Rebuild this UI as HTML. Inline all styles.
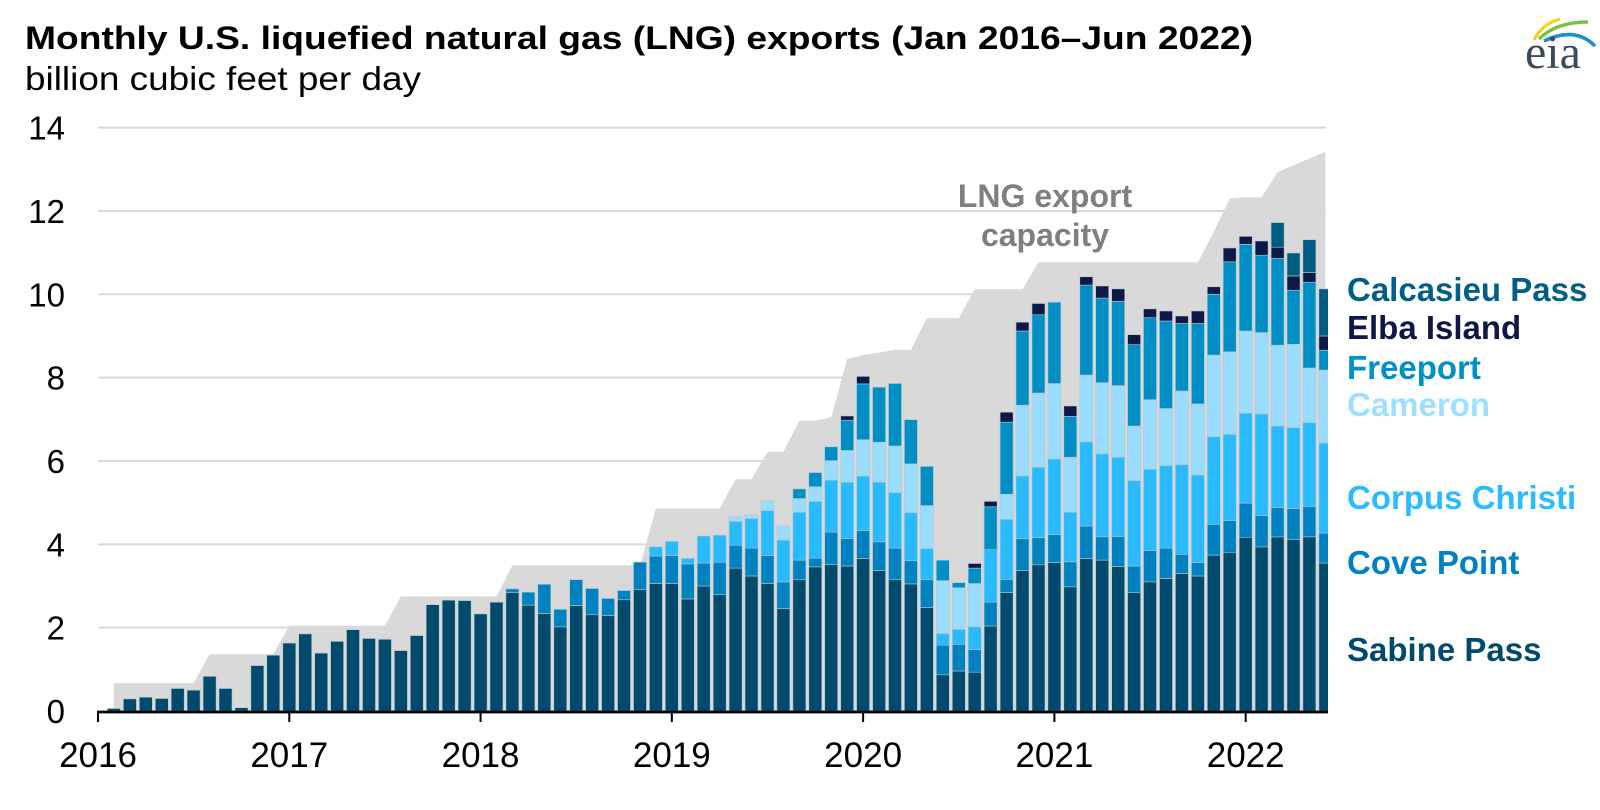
<!DOCTYPE html>
<html><head><meta charset="utf-8"><title>Monthly U.S. LNG exports</title>
<style>html,body{margin:0;padding:0;background:#fff}svg{display:block;font-family:"Liberation Sans",Arial,sans-serif}</style>
</head><body>
<svg id="chart" width="1600" height="810" viewBox="0 0 1600 810" xmlns="http://www.w3.org/2000/svg">
<defs><clipPath id="plotclip"><rect x="90" y="100" width="1238" height="612"/></clipPath></defs>
<text x="25" y="49" font-size="32" font-weight="bold" fill="#000" textLength="1228" lengthAdjust="spacingAndGlyphs">Monthly U.S. liquefied natural gas (LNG) exports (Jan 2016–Jun 2022)</text>
<text x="25" y="90" font-size="33" fill="#000" textLength="396" lengthAdjust="spacingAndGlyphs">billion cubic feet per day</text>
<g>
<path d="M1534 40 Q1542 24 1560 19" fill="none" stroke="#f2d21b" stroke-width="3"/>
<path d="M1539 39 Q1556 22 1588 22" fill="none" stroke="#7cc242" stroke-width="3.5"/>
<path d="M1544 41 Q1575 26 1595 46" fill="none" stroke="#1b8fd2" stroke-width="3.5"/>
<text x="1525" y="68" font-family="Liberation Serif, serif" font-size="48" fill="#3b4a5c">eia</text>
</g>
<g id="grid"></g>
<g id="capacity" clip-path="url(#plotclip)"></g>
<g id="bars" clip-path="url(#plotclip)"></g>
<g id="axes"></g>
<g font-size="32" font-weight="bold" fill="#7f7f7f" text-anchor="middle">
<text x="1045" y="207">LNG export</text>
<text x="1045" y="246">capacity</text>
</g>
<g id="legend" font-size="33" font-weight="bold"></g>
</svg>
<script>
const years = ["2016","2017","2018","2019","2020","2021","2022"];
const yTicks = [0,2,4,6,8,10,12,14];
const sabine = [0,0.06,0.29,0.33,0.30,0.54,0.50,0.83,0.54,0.08,1.09,1.34,
1.63,1.85,1.39,1.67,1.95,1.74,1.72,1.45,1.81,2.55,2.66,2.65,
2.33,2.61,2.84,2.54,2.34,2.02,2.53,2.31,2.29,2.67,2.91,3.06,
3.06,2.69,3.00,2.79,3.43,3.24,3.06,2.46,3.15,3.46,3.51,3.48,
3.66,3.37,3.15,3.05,2.48,0.87,0.96,0.93,2.04,2.84,3.37,3.51,
3.56,2.98,3.66,3.62,3.47,2.84,3.10,3.18,3.30,3.24,3.74,3.81,
4.17,3.94,4.18,4.12,4.18,3.55];
const covePoint = [0,0,0,0,0,0,0,0,0,0,0,0, 0,0,0,0,0,0,0,0,0,0,0,0,
0,0,0.09,0.31,0.70,0.42,0.62,0.63,0.41,0.22,0.66,0.66,
0.67,0.84,0.55,0.78,0.55,0.67,0.67,0.64,0.47,0.21,0.78,0.66,
0.67,0.69,0.76,0.56,0.67,0.71,0.64,0.54,0.57,0.32,0.77,0.65,
0.67,0.60,0.78,0.56,0.72,0.64,0.75,0.73,0.46,0.32,0.74,0.76,
0.82,0.75,0.70,0.74,0.73,0.72];
const corpusChristi = [0,0,0,0,0,0,0,0,0,0,0,0, 0,0,0,0,0,0,0,0,0,0,0,0,
0,0,0,0,0,0,0,0,0,0,0,0.22,
0.34,0.13,0.65,0.65,0.57,0.71,1.08,1.00,1.15,1.36,1.25,1.35,
1.31,1.43,1.33,1.15,0.75,0.28,0.36,0.55,1.26,1.44,1.50,1.69,
1.82,1.19,2.02,1.99,1.90,2.05,1.95,1.98,2.15,2.10,2.10,2.07,
2.16,2.44,1.96,1.94,2.01,2.16];
const cameron = [0,0,0,0,0,0,0,0,0,0,0,0, 0,0,0,0,0,0,0,0,0,0,0,0,
0,0,0,0,0,0,0,0,0,0,0,0,
0,0,0,0,0.11,0.09,0.24,0.34,0.33,0.35,0.47,0.76,
0.87,0.96,1.12,1.17,1.03,1.27,1.00,1.04,0,0.60,1.70,1.78,
1.81,1.32,1.60,1.71,1.72,1.31,1.67,1.37,1.77,1.71,1.96,1.98,
1.97,1.95,1.94,2.00,1.31,1.75];
const freeport = [0,0,0,0,0,0,0,0,0,0,0,0, 0,0,0,0,0,0,0,0,0,0,0,0,
0,0,0,0,0,0,0,0,0,0,0,0,
0,0,0,0,0,0,0,0,0.23,0.34,0.33,0.73,
1.34,1.32,1.50,1.06,0.94,0.49,0.12,0.37,1.03,1.73,1.78,1.88,
1.95,0.98,2.16,2.03,2.02,1.95,1.97,2.10,1.62,1.93,1.46,2.16,
2.08,1.86,2.08,1.30,2.06,0.48];
const elbaIsland = [0,0,0,0,0,0,0,0,0,0,0,0, 0,0,0,0,0,0,0,0,0,0,0,0,
0,0,0,0,0,0,0,0,0,0,0,0,
0,0,0,0,0,0,0,0,0,0,0,0.10,
0.18,0,0,0,0,0,0,0.11,0.13,0.24,0.21,0.27,
0,0.25,0.20,0.29,0.30,0.24,0.21,0.24,0.18,0.30,0.18,0.33,
0.19,0.34,0.27,0.34,0.23,0.34];
const calcasieuPass = [0,0,0,0,0,0,0,0,0,0,0,0, 0,0,0,0,0,0,0,0,0,0,0,0,
0,0,0,0,0,0,0,0,0,0,0,0, 0,0,0,0,0,0,0,0,0,0,0,0,
0,0,0,0,0,0,0,0,0,0,0,0, 0,0,0,0,0,0,0,0,0,0,0,0,
0,0,0.59,0.55,0.79,1.13];
const capacity = [null,0.67,0.67,0.67,0.67,0.67,0.67,1.36,1.36,1.36,1.36,1.36,
2.05,2.05,2.05,2.05,2.05,2.05,2.05,2.75,2.75,2.75,2.75,2.75,
2.75,2.75,3.50,3.50,3.50,3.50,3.50,3.50,3.50,3.50,3.50,4.86,
4.86,4.86,4.86,4.86,5.56,5.56,6.22,6.22,6.97,6.97,7.05,8.45,
8.54,8.60,8.67,8.67,9.43,9.43,9.43,10.12,10.12,10.12,10.12,10.77,
10.77,10.77,10.77,10.77,10.77,10.77,10.77,10.77,10.77,10.77,11.50,12.30,
12.33,12.33,12.93,13.10,13.26,13.42];

const NS = "http://www.w3.org/2000/svg";
const X0 = 98, PITCH = 15.94, BARW = 13, Y0 = 711, PXU = 41.67, XR = 1326;
function xScale(i){ return X0 + i*PITCH; }
function yScale(v){ return Y0 - v*PXU; }
function mk(tag, attrs, parent){ const e=document.createElementNS(NS,tag); for(const k in attrs) e.setAttribute(k,attrs[k]); parent.appendChild(e); return e; }

const grid = document.getElementById('grid');
const axes = document.getElementById('axes');
yTicks.forEach(t=>{
  if(t>0){
    const l = mk('line',{x1:X0,x2:XR,y1:yScale(t),y2:yScale(t),stroke:'#d9d9d9','stroke-width':2},grid);
    
    
  }
  const tx = mk('text',{x:65,y:yScale(t)+12,'font-size':33,'text-anchor':'end',fill:'#000'},axes);
  tx.textContent = t;
  
  
});

const capG = document.getElementById('capacity');
let pts = [];
let first = -1, last = -1;
capacity.forEach((v,i)=>{ if(v!==null){ if(first<0) first=i; last=i; pts.push(xScale(i).toFixed(1)+','+yScale(v).toFixed(1)); }});
const poly = [xScale(first).toFixed(1)+','+Y0].concat(pts).concat([xScale(last).toFixed(1)+','+Y0]).join(' ');
const capPoly = mk('polygon',{points:poly,fill:'#d9d9d9'},capG);



const series = [
 {name:'sabine-pass', data:sabine, color:'#004b6b'},
 {name:'cove-point', data:covePoint, color:'#0081c0'},
 {name:'corpus-christi', data:corpusChristi, color:'#28bbff'},
 {name:'cameron', data:cameron, color:'#9bddff'},
 {name:'freeport', data:freeport, color:'#008fc4'},
 {name:'elba-island', data:elbaIsland, color:'#0c1845'},
 {name:'calcasieu-pass', data:calcasieuPass, color:'#005b81'}
];
const barsG = document.getElementById('bars');
for(let i=0;i<sabine.length;i++){
  let cum = 0;
  series.forEach(s=>{
    const v = s.data[i];
    if(v>0){
      const yT = yScale(cum+v), yB = yScale(cum);
      const r = mk('rect',{x:(xScale(i)-BARW/2).toFixed(1),y:yT.toFixed(1),width:BARW,height:(yB-yT).toFixed(1),fill:s.color,stroke:'#b9c4cc','stroke-width':0.6},barsG);
      
      
    }
    cum += v;
  });
}

const ax = mk('line',{x1:X0-1,x2:XR+2,y1:Y0+1,y2:Y0+1,stroke:'#000','stroke-width':2.7},axes);


years.forEach((y,k)=>{
  const x = xScale(k*12);
  const tk = mk('line',{x1:x,x2:x,y1:Y0,y2:Y0+11,stroke:'#000','stroke-width':2},axes);
  
  
  const t = mk('text',{x:x,y:767,'font-size':35,'text-anchor':'middle',fill:'#000'},axes);
  t.textContent = y;
  
  
});

const legendNames = ["Calcasieu Pass","Elba Island","Freeport","Cameron","Corpus Christi","Cove Point","Sabine Pass"];
const legendColors = ["#005f86","#0d1847","#0090c8","#9ee0ff","#2bbcff","#0081c1","#004b6d"];
const legendY = [301,339,379,416,509,574,661];
const lg = document.getElementById('legend');
legendNames.forEach((n,k)=>{
  const t = mk('text',{x:1347,y:legendY[k],fill:legendColors[k]},lg);
  t.textContent = n;
  
  
});
</script>
</body></html>
